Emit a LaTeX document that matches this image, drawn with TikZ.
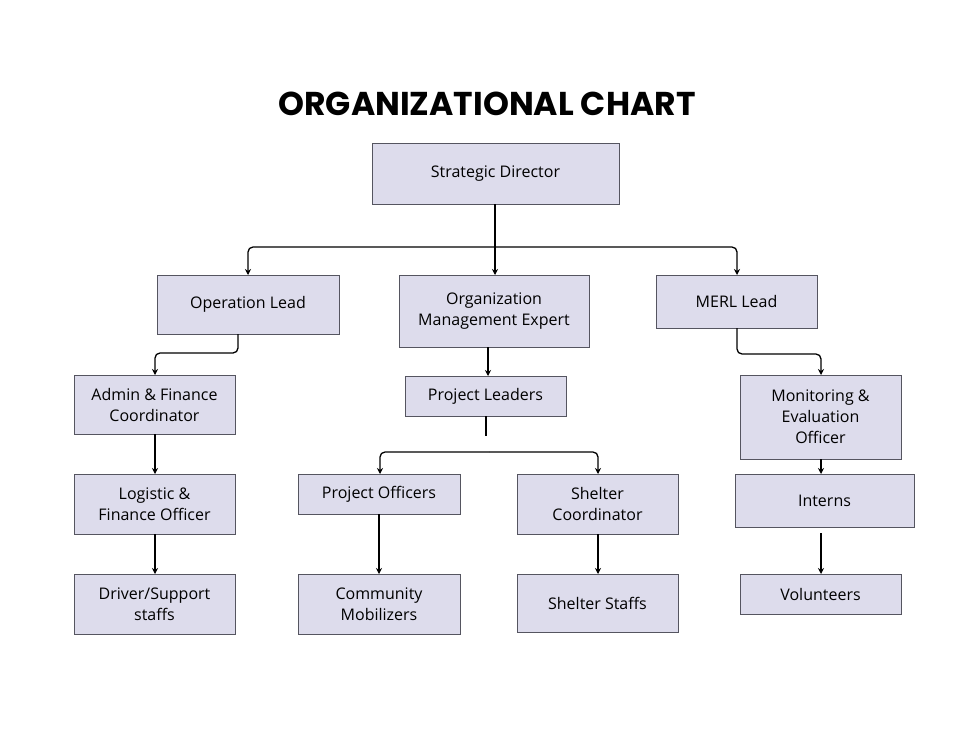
\documentclass[tikz,border=0pt]{standalone}
\usepackage{fontspec}
\setmainfont{Open Sans}
\newfontfamily\titlefont{Poppins}
\usetikzlibrary{arrows.meta}
\definecolor{boxfill}{HTML}{DDDCEC}
\definecolor{boxline}{HTML}{555560}
\tikzset{
 box/.style={draw=boxline,fill=boxfill,line width=0.8pt,inner sep=0pt,align=center,font=\fontsize{16}{21}\selectfont},
 con/.style={line width=1.3pt,black,rounded corners=5pt},
 arr/.style={con,-{Stealth[length=6pt,width=6pt]}}
}
\newcommand{\bx}[6]{\node[box,minimum width=#4-#2,minimum height=#5-#3] (#1) at ({(#2+#4)/2},{(#3+#5)/2}) {#6};}
\begin{document}
\begin{tikzpicture}[x=1pt,y=-1pt]
\useasboundingbox[fill=white] (0,0) rectangle (975,731);
\node[font=\titlefont\bfseries\fontsize{33}{36}\selectfont] (title) at (487,104) {ORGANIZATIONAL CHART};
\bx{sd}{372}{143}{619}{204}{Strategic Director}
\bx{ol}{157}{275}{339}{334}{Operation Lead}
\bx{ome}{399}{275}{589}{347}{Organization\\Management Expert}
\bx{merl}{656}{275}{817}{328}{MERL Lead}
\bx{afc}{74}{375}{235}{434}{Admin \& Finance\\Coordinator}
\bx{pl}{405}{376}{566}{416}{Project Leaders}
\bx{meo}{740}{375}{901}{459}{Monitoring \&\\Evaluation\\Officer}
\bx{lfo}{74}{474}{235}{534}{Logistic \&\\Finance Officer}
\bx{po}{298}{474}{460}{514}{Project Officers}
\bx{sc}{517}{474}{678}{534}{Shelter\\Coordinator}
\bx{int}{735}{474}{914}{527}{Interns}
\bx{dss}{74}{574}{235}{634}{Driver/Support\\staffs}
\bx{cm}{298}{574}{460}{634}{Community\\Mobilizers}
\bx{ss}{517}{574}{678}{632}{Shelter Staffs}
\bx{vol}{740}{574}{901}{614}{Volunteers}
\coordinate (j1) at (495,247);
\draw[con] (sd.south -| j1) -- (j1);
\draw[arr] (j1) -- (248,247) -- (248,275);
\draw[arr] (j1) -- (737,247) -- (737,275);
\draw[arr] (j1) -- (495,275);
\draw[arr] (238,334) -- (238,353) -- (155,353) -- (155,375);
\draw[arr] (488,347) -- (488,376);
\coordinate (pt) at (486,436);
\draw[con] (486,416) -- (pt);
\coordinate (h) at (489,452);
\draw[arr] (h) -- (380,452) -- (380,474);
\draw[arr] (h) -- (598,452) -- (598,474);
\draw[arr] (737,328) -- (737,354) -- (821,354) -- (821,375);
\draw[arr] (821,459) -- (821,474);
\draw[arr] (821,533) -- (821,574);
\draw[arr] (155,434) -- (155,474);
\draw[arr] (155,534) -- (155,574);
\draw[arr] (379,514) -- (379,574);
\draw[arr] (598,534) -- (598,574);
\end{tikzpicture}
\end{document}
